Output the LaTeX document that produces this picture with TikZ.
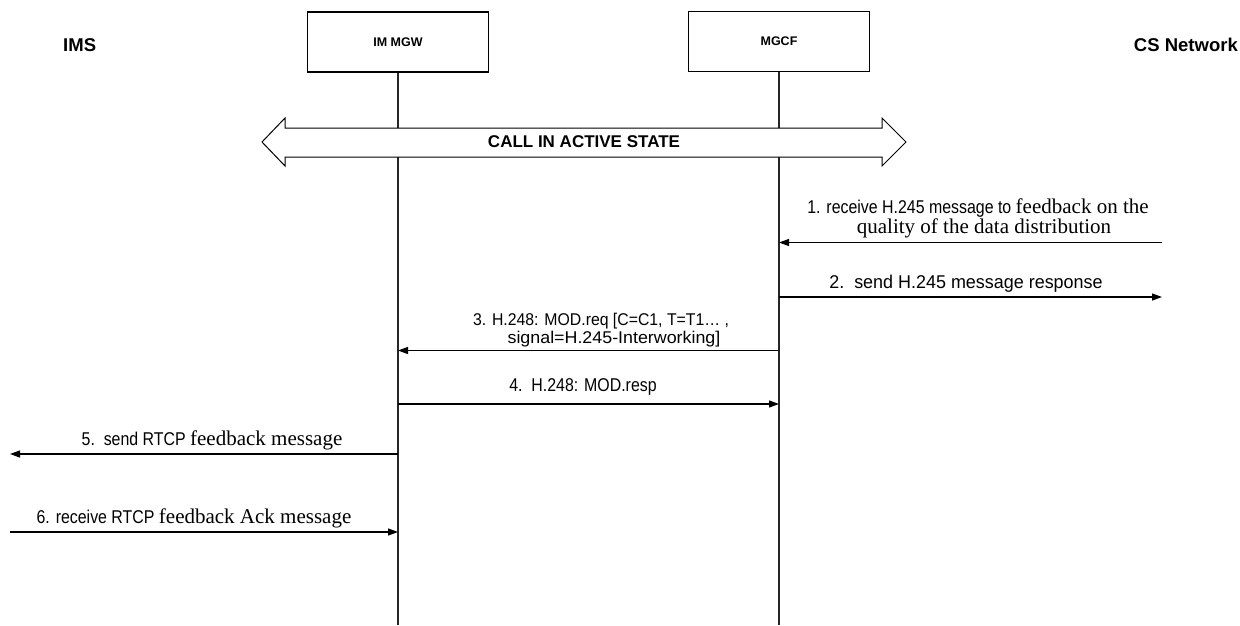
\documentclass[tikz,border=0pt]{standalone}
\usepackage{fontspec}
\setmainfont{Liberation Serif}
\newfontfamily\arialf{Liberation Sans}
\newfontfamily\arialn{Liberation Sans}[FakeStretch=0.86]
\newfontfamily\arialt{Liberation Sans}[FakeStretch=0.93]
\newfontfamily\arialm{Liberation Sans}[FakeStretch=0.97]
\newfontfamily\arialw{Liberation Sans}[FakeStretch=1.05]
\usetikzlibrary{arrows.meta}
\newcommand{\sa}{\arialn\fontsize{18.5}{20}\selectfont}
\newcommand{\sm}{\arialm\fontsize{18.5}{20}\selectfont}
\newcommand{\tr}{\rmfamily\fontsize{21}{23}\selectfont}
\begin{document}
\begin{tikzpicture}[x=1pt,y=-1pt,
  entity/.style={draw,line width=1.5pt,minimum width=181pt,minimum height=60pt,inner sep=0pt,font=\arialf\bfseries\fontsize{12.5}{14}\selectfont},
  lifeline/.style={line width=1.3pt,draw=black!85},
  msg/.style={line width=1.2pt,-{Triangle[length=10pt,width=7pt]}},
  lbl/.style={inner sep=0pt,align=center},
  big/.style={inner sep=0pt,font=\arialf\bfseries\fontsize{18.5}{20}\selectfont}]
\useasboundingbox (0,0) rectangle (1240,625);
% entities
\node[entity] (mgw) at (398,42) {IM MGW};
\node[entity] (mgcf) at (779,41.5) {MGCF};
\node[big,anchor=west] (ims) at (63,45) {IMS};
\node[big,anchor=east] (cs) at (1238,45) {CS Network};
% lifeline ends
\coordinate (mgwend) at (398,625);
\coordinate (mgcfend) at (779,625);
\draw[lifeline] (mgw.south) -- (mgwend);
\draw[lifeline] (mgcf.south) -- (mgcfend);
% call in active state
\draw[line width=1pt,fill=white] (262,142) -- (285,118) -- (285,128) -- (882,128) -- (882,118) -- (906,142) -- (882,166) -- (882,157) -- (285,157) -- (285,166) -- cycle;
\node[inner sep=0pt,font=\arialf\bfseries\fontsize{17}{19}\selectfont] (call) at (584,142) {CALL IN ACTIVE STATE};
% free ends
\coordinate (csA) at (1162,242.5);
\coordinate (csB) at (1162,297);
\coordinate (imsA) at (10,454);
\coordinate (imsB) at (10,532);
% messages
\draw[msg] (csA) -- (mgcf |- csA);
\node[lbl,anchor=base] (t1a) at (978,213) {{\sa 1. receive H.245 message to }{\tr feedback on the}};
\node[lbl,anchor=base] (t1b) at (984,233) {\tr quality of the data distribution};
\draw[msg] (mgcf |- csB) -- (csB);
\node[lbl,anchor=base] (t2) at (966,288) {\sm 2.\ \ send H.245 message response};
\draw[msg] (mgcf |- 0,350.5) coordinate (m3s) -- (mgw |- m3s);
\node[lbl,anchor=base] (t3a) at (601,325.5) {\arialt\fontsize{17}{19}\selectfont 3. H.248: MOD.req [C=C1, T=T1\dots\ ,};
\node[lbl,anchor=base] (t3b) at (614,343) {\arialw\fontsize{17}{19}\selectfont signal=H.245-Interworking]};
\draw[msg] (mgw |- 0,404) coordinate (m4s) -- (mgcf |- m4s);
\node[lbl,anchor=base] (t4) at (583,391) {\sa 4.\ \ H.248: MOD.resp};
\draw[msg] (mgw |- imsA) -- (imsA);
\node[lbl,anchor=base] (t5) at (212,445) {{\sa 5.\ \ send RTCP }{\tr feedback message}};
\draw[msg] (imsB) -- (mgw |- imsB);
\node[lbl,anchor=base] (t6) at (194,523) {{\sa 6. receive RTCP }{\tr feedback Ack message}};
\end{tikzpicture}
\end{document}
